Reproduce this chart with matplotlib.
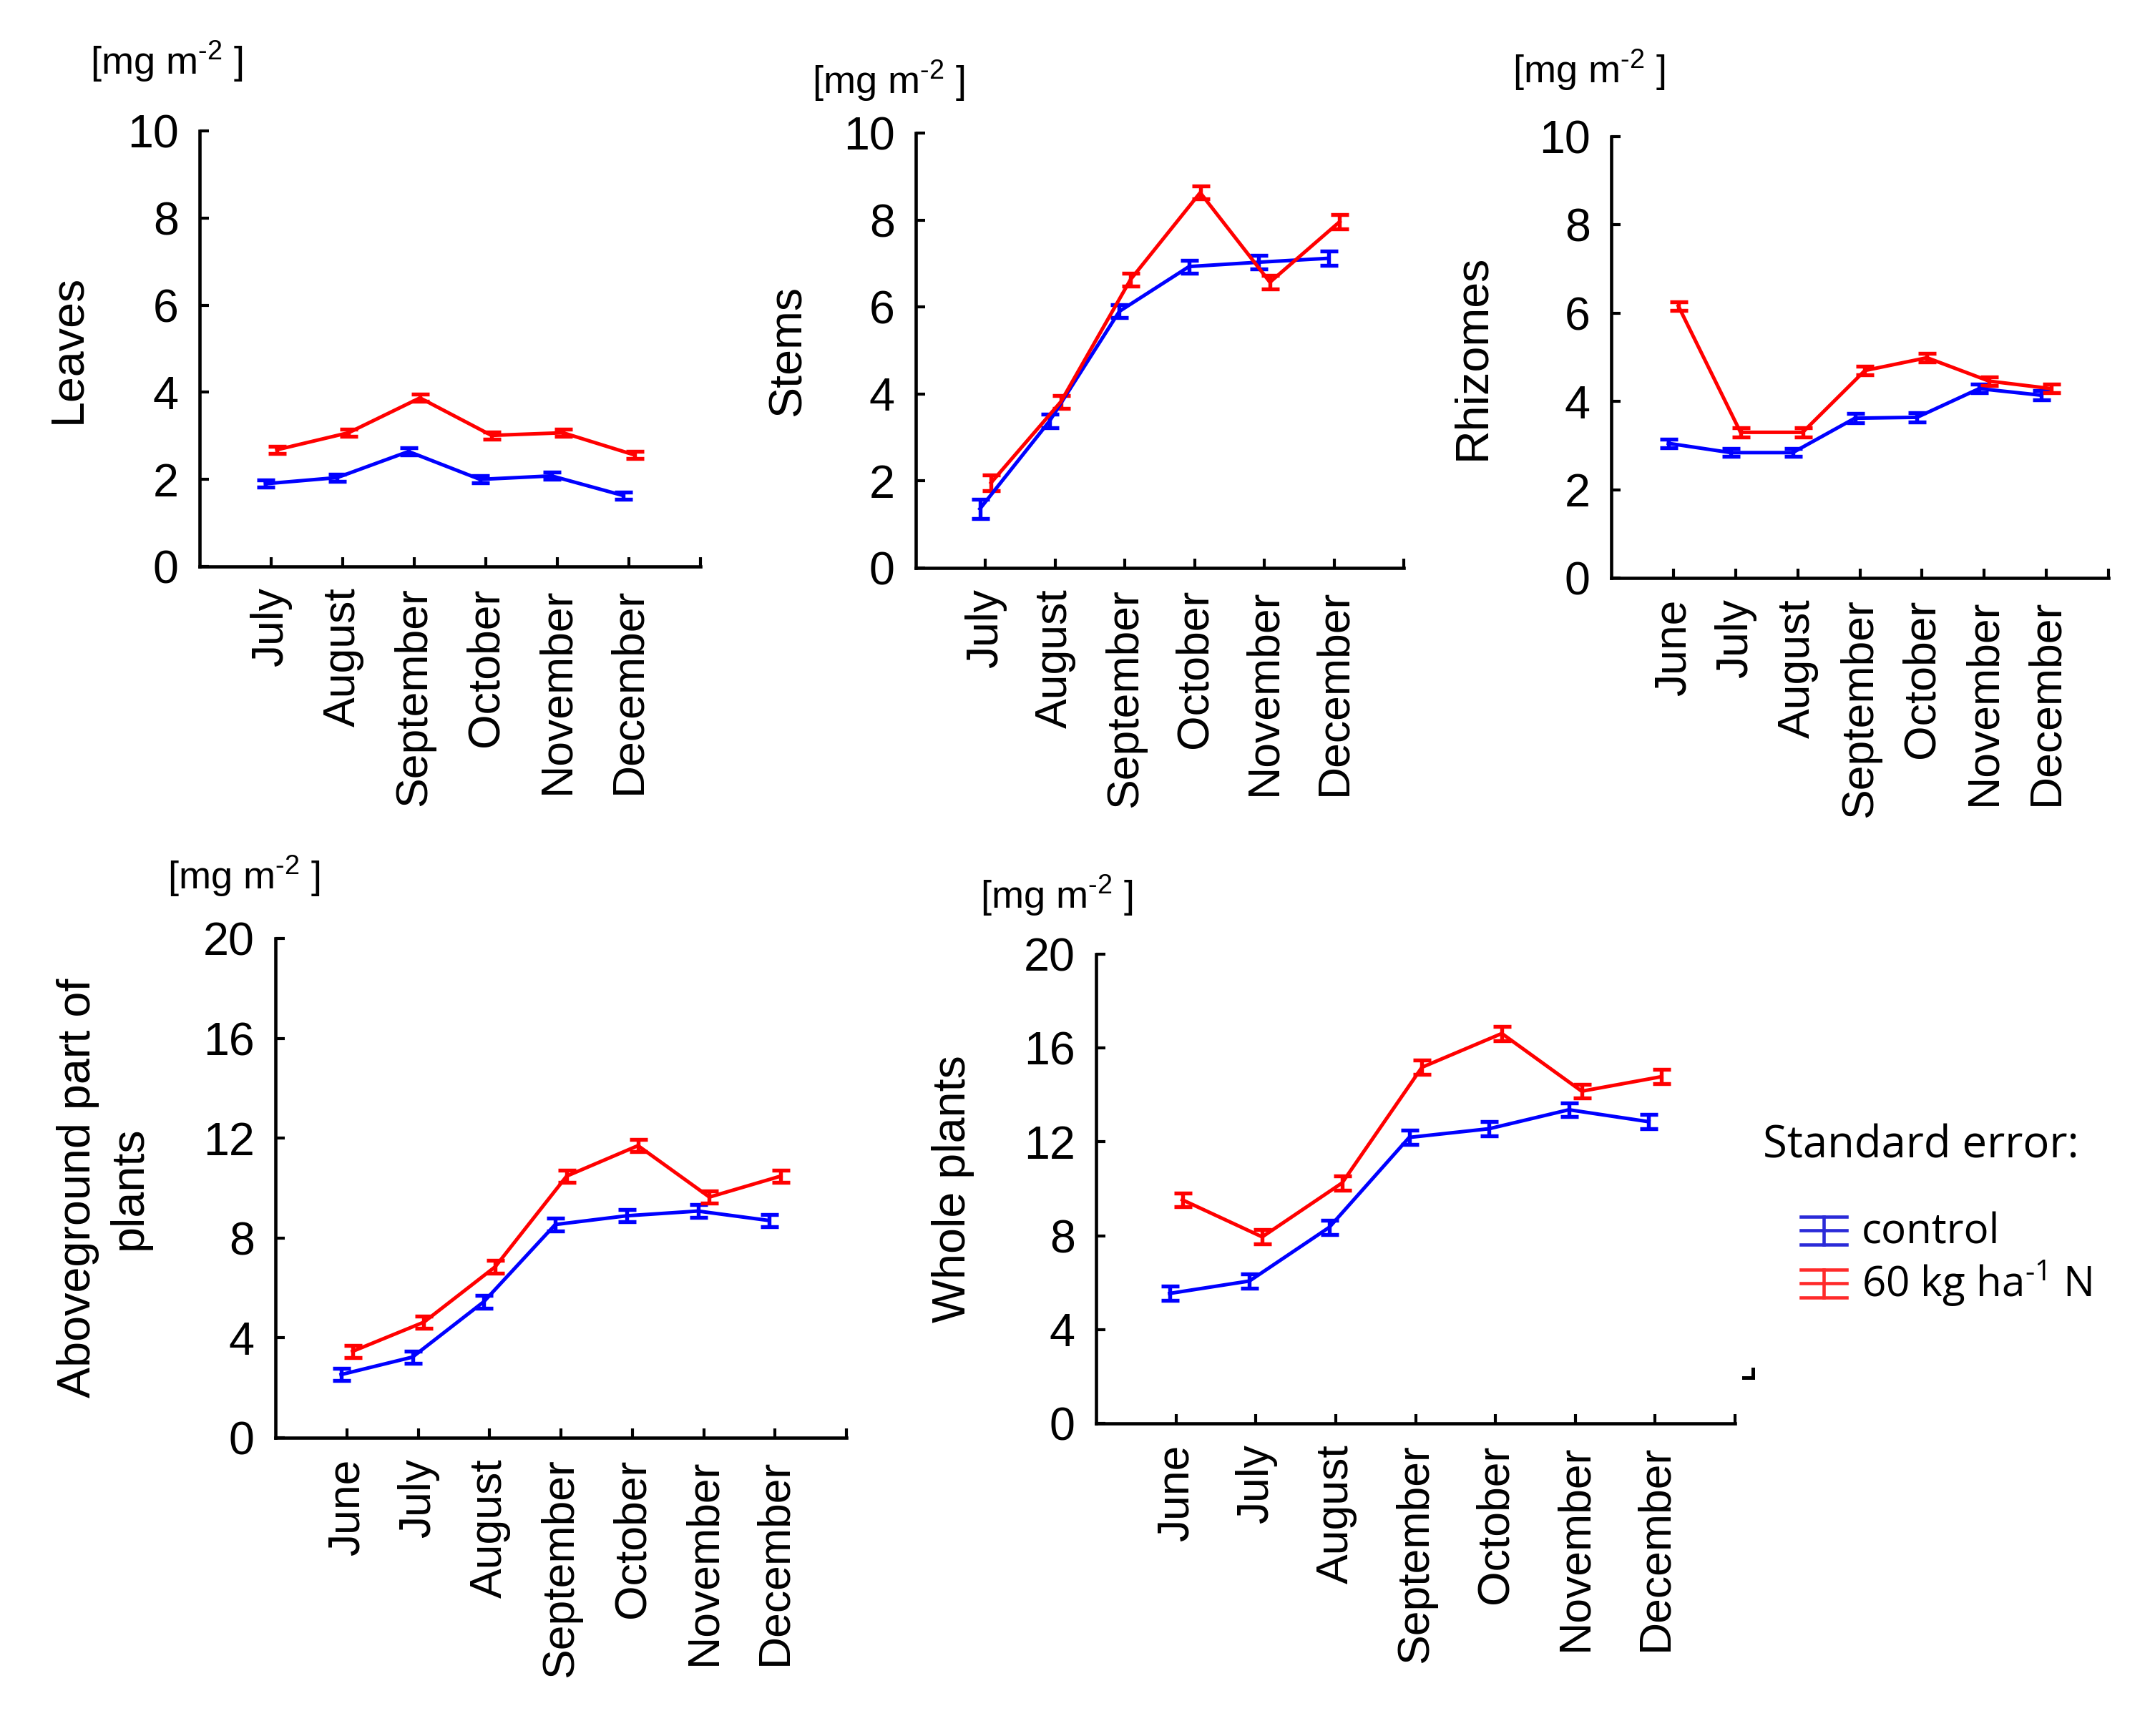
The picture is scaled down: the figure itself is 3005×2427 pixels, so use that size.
import numpy as np
import matplotlib.pyplot as plt
from matplotlib.legend_handler import HandlerBase
from matplotlib.lines import Line2D

plt.rcParams['font.family'] = ['Liberation Sans', 'DejaVu Sans']
plt.rcParams['mathtext.default'] = 'regular'

# months on the x axis
months6 = ['July', 'August', 'September', 'October', 'November', 'December']
months7 = ['June'] + months6

# control (blue) and 60 kg ha-1 N (red) values
leaves_ctrl = [1.90, 2.04, 2.64, 2.00, 2.08, 1.63]
leaves_n60 = [2.68, 3.07, 3.87, 3.01, 3.07, 2.56]
leaves_ctrl_se = [0.08, 0.08, 0.08, 0.08, 0.08, 0.08]
leaves_n60_se = [0.08, 0.08, 0.08, 0.08, 0.08, 0.08]

stems_ctrl = [1.36, 3.38, 5.90, 6.93, 7.03, 7.12]
stems_n60 = [1.96, 3.82, 6.63, 8.63, 6.57, 7.96]
stems_ctrl_se = [0.22, 0.15, 0.15, 0.15, 0.15, 0.17]
stems_n60_se = [0.18, 0.15, 0.15, 0.15, 0.15, 0.16]

rhiz_ctrl = [3.05, 2.84, 2.84, 3.62, 3.64, 4.29, 4.14]
rhiz_n60 = [6.16, 3.30, 3.30, 4.70, 4.99, 4.46, 4.29]
rhiz_ctrl_se = [0.1, 0.09, 0.09, 0.1, 0.1, 0.1, 0.1]
rhiz_n60_se = [0.1, 0.1, 0.1, 0.1, 0.1, 0.1, 0.1]

above_ctrl = [2.53, 3.23, 5.45, 8.54, 8.89, 9.08, 8.70]
above_n60 = [3.46, 4.63, 6.85, 10.48, 11.70, 9.64, 10.48]
above_ctrl_se = [0.25, 0.25, 0.25, 0.25, 0.25, 0.25, 0.25]
above_n60_se = [0.25, 0.25, 0.25, 0.25, 0.25, 0.25, 0.25]

whole_ctrl = [5.54, 6.07, 8.36, 12.19, 12.56, 13.37, 12.86]
whole_n60 = [9.53, 7.95, 10.25, 15.18, 16.62, 14.16, 14.78]
whole_ctrl_se = [0.3, 0.3, 0.3, 0.3, 0.3, 0.3, 0.3]
whole_n60_se = [0.3, 0.3, 0.3, 0.3, 0.3, 0.3, 0.3]

W, H = 3005, 2427
fig = plt.figure(figsize=(W / 300, H / 300), dpi=300)

UNIT = '[mg m$^{\u20102}$ ]'


def box(l, r, t, b):
    return [l / W, 1 - b / H, (r - l) / W, (b - t) / H]


def panel(rect, months, ctrl, n60, ctrl_se, n60_se, ymax, ystep, ylabel, lab_x, unit_xy):
    ax = fig.add_axes(rect)
    x = np.arange(1, len(months) + 1)
    ax.errorbar(x - 0.08, ctrl, yerr=ctrl_se, color='#0000ff', lw=1.2,
                elinewidth=1.3, capsize=3, capthick=1.3)
    ax.errorbar(x + 0.08, n60, yerr=n60_se, color='#ff0000', lw=1.2,
                elinewidth=1.3, capsize=3, capthick=1.3)
    ax.set_xlim(0, len(months) + 1)
    ax.set_ylim(0, ymax)
    ax.set_xticks(x)
    ax.set_xticklabels(months, rotation=90, fontsize=15)
    ax.set_xticks([len(months) + 1], minor=True)
    ax.set_yticks(np.arange(0, ymax + 0.1, ystep))
    ax.tick_params(axis='y', labelsize=15.5)
    ax.tick_params(direction='in', length=3.2, width=1, pad=7)
    ax.tick_params(axis='x', which='minor', direction='in', length=3.2, width=1)
    for s in ['top', 'right']:
        ax.spines[s].set_visible(False)
    for s in ['left', 'bottom']:
        ax.spines[s].set_linewidth(1.1)
    ax.set_ylabel(ylabel, fontsize=15.5, linespacing=1.25)
    ax.yaxis.set_label_coords(lab_x, 0.5)
    ax.text(unit_xy[0], unit_xy[1], UNIT, fontsize=13,
            transform=ax.transAxes, ha='center', va='center')
    return ax


panel(box(279, 979, 183, 792), months6, leaves_ctrl, leaves_n60,
      leaves_ctrl_se, leaves_n60_se, 10, 2, 'Leaves', -0.22, (-0.065, 1.16))
panel(box(1280, 1962, 186, 794), months6, stems_ctrl, stems_n60,
      stems_ctrl_se, stems_n60_se, 10, 2, 'Stems', -0.218, (-0.055, 1.12))
panel(box(2252, 2947, 191, 808), months7, rhiz_ctrl, rhiz_n60,
      rhiz_ctrl_se, rhiz_n60_se, 10, 2, 'Rhizomes', -0.235, (-0.045, 1.15))
panel(box(385, 1183, 1312, 2010), months7, above_ctrl, above_n60,
      above_ctrl_se, above_n60_se, 20, 4, 'Aboveground part of\nplants', -0.218, (-0.055, 1.125))
panel(box(1532, 2425, 1334, 1990), months7, whole_ctrl, whole_n60,
      whole_ctrl_se, whole_n60_se, 20, 4, 'Whole plants', -0.19, (-0.062, 1.125))


# legend glyph: vertical bar with three full-width horizontal lines
class SEHandler(HandlerBase):
    def create_artists(self, legend, orig, xd, yd, w, h, fontsize, trans):
        c = orig.get_color()
        arts = []
        for fy in (0.0, 0.5, 1.0):
            arts.append(Line2D([xd, xd + w], [yd + fy * h, yd + fy * h], color=c, lw=1.1, transform=trans))
        arts.append(Line2D([xd + w / 2, xd + w / 2], [yd, yd + h], color=c, lw=1.1, transform=trans))
        return arts


handles = [Line2D([], [], color='#2a2ad8'), Line2D([], [], color='#ff2a2a')]
fig.text(2464 / W, 1 - 1602 / H, 'Standard error:', fontsize=14.8, family='Open Sans',
         ha='left', va='center')
fig.legend(handles, ['control', '60 kg ha$^{\u20101}$ N'], handler_map={Line2D: SEHandler()},
           loc='upper left', bbox_to_anchor=(2517 / W, 1 - 1694 / H), frameon=False,
           prop={'family': 'Open Sans', 'size': 14}, handlelength=1.1, handleheight=0.65,
           handletextpad=0.35, labelspacing=0.12, borderpad=0, borderaxespad=0)

# small corner mark left over from the original legend box
fig.add_artist(Line2D([2437 / W, 2450 / W], [1 - 1926 / H, 1 - 1926 / H], color='k', lw=1.2))
fig.add_artist(Line2D([2450 / W, 2450 / W], [1 - 1926 / H, 1 - 1914 / H], color='k', lw=1.2))

fig.savefig('out.png', dpi=300)
